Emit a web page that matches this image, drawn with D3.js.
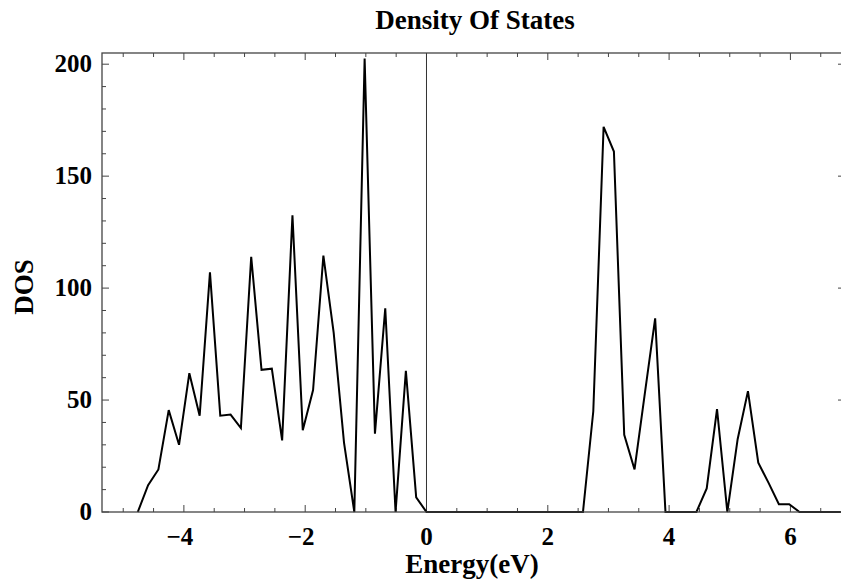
<!DOCTYPE html>
<html>
<head>
<meta charset="utf-8">
<script src="https://cdn.jsdelivr.net/npm/d3@7"></script>
<style>
  body { margin: 0; background: #fff; }
  text { font-family: "Liberation Serif", "Times New Roman", serif; font-weight: bold; fill: #000; }
</style>
</head>
<body>
<div id="chart"></div>
<script>
// Data
const energy = [-4.76, -4.59, -4.42, -4.25, -4.08, -3.91, -3.74, -3.57, -3.40, -3.23,
  -3.06, -2.89, -2.72, -2.55, -2.38, -2.21, -2.04, -1.87, -1.70, -1.53,
  -1.36, -1.19, -1.02, -0.85, -0.68, -0.51, -0.34, -0.17, 0.00,
  2.58, 2.75, 2.92, 3.09, 3.26, 3.43, 3.60, 3.77, 3.94, 4.11, 4.28, 4.45,
  4.62, 4.79, 4.96, 5.13, 5.30, 5.47, 5.64, 5.81, 5.98, 6.15, 6.32, 6.49, 6.66, 6.83];
const dos = [0, 12, 19, 45.5, 30, 62, 43, 107, 43, 43.5,
  37.5, 114, 63.5, 64, 32, 132.5, 36.5, 54.5, 114.5, 80,
  31, 0, 202.5, 35, 91, 0, 63, 6.5, 0,
  0, 45, 172, 161, 34.5, 19, 53, 86.5, 0, 0, 0, 0,
  10.5, 46, 0, 32.5, 54, 22, 13, 3.5, 3.5, 0, 0, 0, 0, 0];

const xTicks = [-4, -2, 0, 2, 4, 6];
const yTicks = [0, 50, 100, 150, 200];

const svgWidth = 841;
const svgHeight = 585;

const frame = { left: 102, right: 845, top: 53, bottom: 512 };

const svg = d3.select("#chart")
  .append("svg")
  .attr("width", svgWidth)
  .attr("height", svgHeight);

const x = d3.scaleLinear().domain([-5.35, 6.9]).range([frame.left, frame.right]);
const y = d3.scaleLinear().domain([0, 205]).range([frame.bottom, frame.top]);

const frameColor = "#444";

// minor ticks
const xMinor = d3.range(-5, 7, 0.5).filter(v => !xTicks.includes(v));
const yMinor = d3.range(0, 205, 10).filter(v => !yTicks.includes(v));

// bottom / top ticks (inward)
function xAxis(g, pos, dir) {
  g.selectAll("line.major").data(xTicks).enter().append("line")
    .attr("x1", d => x(d)).attr("x2", d => x(d))
    .attr("y1", pos).attr("y2", pos + dir * 7)
    .attr("stroke", frameColor).attr("stroke-width", 1);
  g.selectAll("line.minor").data(xMinor).enter().append("line")
    .attr("x1", d => x(d)).attr("x2", d => x(d))
    .attr("y1", pos).attr("y2", pos + dir * 4)
    .attr("stroke", frameColor).attr("stroke-width", 1);
}
function yAxis(g, pos, dir) {
  g.selectAll("line.major").data(yTicks).enter().append("line")
    .attr("y1", d => y(d)).attr("y2", d => y(d))
    .attr("x1", pos).attr("x2", pos + dir * 7)
    .attr("stroke", frameColor).attr("stroke-width", 1);
  g.selectAll("line.minor").data(yMinor).enter().append("line")
    .attr("y1", d => y(d)).attr("y2", d => y(d))
    .attr("x1", pos).attr("x2", pos + dir * 4)
    .attr("stroke", frameColor).attr("stroke-width", 1);
}

xAxis(svg.append("g"), frame.bottom, -1);
xAxis(svg.append("g"), frame.top, 1);
yAxis(svg.append("g"), frame.left, 1);
yAxis(svg.append("g"), frame.right, -1);

// zero line
svg.append("line")
  .attr("x1", x(0)).attr("x2", x(0))
  .attr("y1", frame.top).attr("y2", frame.bottom)
  .attr("stroke", "#333").attr("stroke-width", 1);

// data line
const points = energy.map((e, i) => [e, dos[i]]);
svg.append("path")
  .datum(points)
  .attr("fill", "none")
  .attr("stroke", "#000")
  .attr("stroke-width", 2)
  .attr("stroke-linejoin", "miter")
  .attr("d", d3.line().x(d => x(d[0])).y(d => y(d[1])));

// frame
svg.append("rect")
  .attr("x", frame.left).attr("y", frame.top)
  .attr("width", frame.right - frame.left)
  .attr("height", frame.bottom - frame.top)
  .attr("fill", "none")
  .attr("stroke", frameColor)
  .attr("stroke-width", 1.3);

// tick labels
const fmt = v => (v < 0 ? "\u2212" + Math.abs(v) : String(v));
svg.selectAll("text.xt").data(xTicks).enter().append("text")
  .attr("x", d => x(d) - (d < 0 ? 4 : 0))
  .attr("y", 545)
  .attr("text-anchor", "middle")
  .style("font-size", "25px")
  .text(fmt);

svg.selectAll("text.yt").data(yTicks).enter().append("text")
  .attr("x", 92)
  .attr("y", d => y(d) + 8)
  .attr("text-anchor", "end")
  .style("font-size", "25px")
  .text(d => d);

// titles
svg.append("text")
  .attr("x", 475).attr("y", 29)
  .attr("text-anchor", "middle")
  .style("font-size", "27px")
  .text("Density Of States");

svg.append("text")
  .attr("x", 472).attr("y", 573)
  .attr("text-anchor", "middle")
  .style("font-size", "27px")
  .text("Energy(eV)");

svg.append("text")
  .attr("transform", "translate(33, 287) rotate(-90)")
  .attr("text-anchor", "middle")
  .style("font-size", "27px")
  .text("DOS");
</script>
</body>
</html>
